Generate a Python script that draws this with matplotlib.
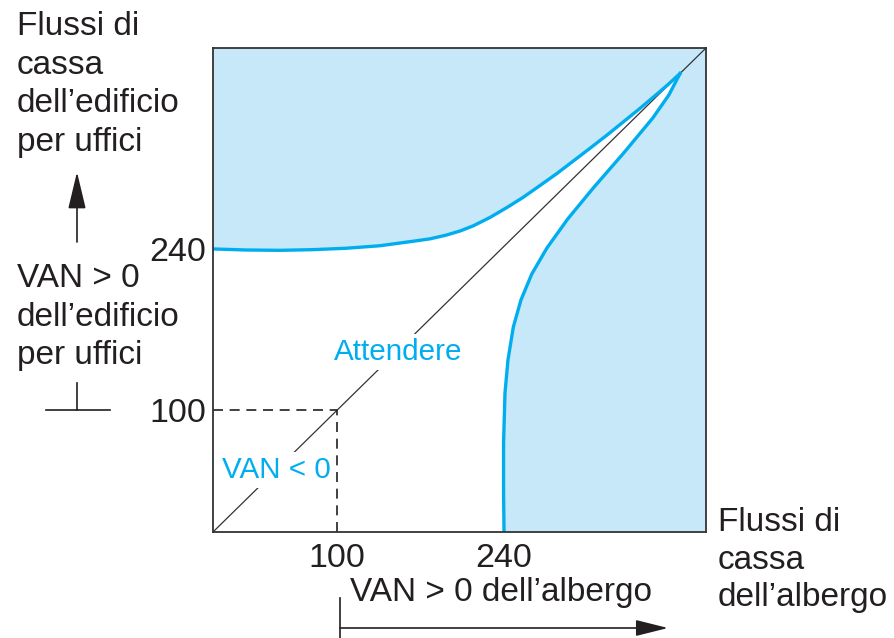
import matplotlib
matplotlib.use("Agg")
import matplotlib.pyplot as plt

plt.rcParams['font.family'] = ['Liberation Sans', 'DejaVu Sans']

# curves (data units)
upper_x = [-4.0, 23.7, 52.3, 80.0, 107.7, 136.2, 164.0, 178.2, 191.7, 203.4, 214.3, 228.6,
           242.9, 256.3, 270.6, 284.9, 298.3, 312.6, 326.9, 340.3, 354.6, 368.9, 378.1, 388.2]
upper_y = [240.2, 239.3, 239.0, 239.6, 240.8, 243.0, 246.9, 249.0, 252.2, 255.8, 260.2, 267.6,
           276.3, 285.0, 295.4, 305.9, 316.5, 327.8, 339.3, 350.5, 362.5, 375.0, 383.2, 392.8]

right_x = [240.4, 240.0, 240.0, 241.2, 243.7, 248.2, 254.6, 263.7, 276.4, 293.9,
           315.3, 340.9, 365.3, 378.8, 388.2]
right_y = [-6.0, 27.9, 71.4, 114.9, 143.6, 172.3, 195.8, 218.4, 241.0, 266.3,
           293.2, 323.7, 354.1, 374.1, 392.8]

xlim = (-4, 410)
ylim = (-6, 415)
tick_vals = [100, 240]
tick_labels = ['100', '240']

BLUE = '#00aeef'
FILL = '#c7e8f8'
INK = '#231f20'

W, H = 894, 638
fig = plt.figure(figsize=(W / 100, H / 100), dpi=100)
ax = fig.add_axes([213 / W, 106 / H, 493 / W, 484 / H])
ax.set_xlim(*xlim)
ax.set_ylim(*ylim)
ax.set_facecolor(FILL)

# white wedge between the two curves
wx = [xlim[0]] + upper_x + right_x[::-1]
wy = [ylim[0]] + upper_y + right_y[::-1]
ax.fill(wx, wy, color='white', lw=0, zorder=1)

ax.plot(upper_x, upper_y, color=BLUE, lw=2.4, zorder=3, solid_joinstyle='round')
ax.plot(right_x, right_y, color=BLUE, lw=2.4, zorder=3, solid_joinstyle='round')

# diagonal
ax.plot([xlim[0], xlim[1]], [ylim[0], ylim[1]], color='#333333', lw=0.9, zorder=2)

# dashed guides at 100
ax.plot([xlim[0], 100], [100, 100], color=INK, lw=1.2, ls=(0, (6, 4)), zorder=2)
ax.plot([100, 100], [ylim[0], 100], color=INK, lw=1.2, ls=(0, (6, 4)), zorder=2)

for s in ax.spines.values():
    s.set_color('#333333')
    s.set_linewidth(1.3)
    s.set_zorder(5)

ax.set_xticks(tick_vals)
ax.set_xticklabels(tick_labels)
ax.set_yticks(tick_vals)
ax.set_yticklabels(tick_labels)
ax.tick_params(length=0, labelsize=24.5, colors=INK, pad=5)
ax.tick_params(axis='x', pad=8)

ax.text(151.4, 143.6, 'Attendere', color=BLUE, fontsize=21.3, ha='center', va='baseline',
        zorder=4, bbox=dict(boxstyle='square,pad=0.15', fc='white', ec='none'))
ax.text(48.9, 41.0, 'VAN < 0', color=BLUE, fontsize=21.3, ha='center', va='baseline',
        zorder=4, bbox=dict(boxstyle='square,pad=0.15', fc='white', ec='none'))


def fx(px):
    return px / W


def fy(py):
    return 1 - py / H


fig.text(fx(17), fy(11), 'Flussi di\ncassa\ndell\u2019edificio\nper uffici',
         fontsize=24, color=INK, ha='left', va='top', linespacing=1.32)
fig.text(fx(17), fy(263), 'VAN > 0\ndell\u2019edificio\nper uffici',
         fontsize=24, color=INK, ha='left', va='top', linespacing=1.32)
fig.text(fx(718), fy(507), 'Flussi di\ncassa\ndell\u2019albergo',
         fontsize=24, color=INK, ha='left', va='top', linespacing=1.28)
fig.text(fx(350), fy(592), 'VAN > 0 dell\u2019albergo',
         fontsize=24, color=INK, ha='left', va='center')

# arrows and bracket marks
fig.add_artist(plt.Line2D([fx(77), fx(77)], [fy(383), fy(410)], color=INK, lw=1.2))
fig.add_artist(plt.Line2D([fx(46), fx(110)], [fy(410), fy(410)], color=INK, lw=1.2))
ax.annotate('', xy=(fx(77), fy(172)), xytext=(fx(77), fy(242)),
            xycoords='figure fraction', textcoords='figure fraction',
            arrowprops=dict(arrowstyle='-|>,head_length=2.3,head_width=0.55', color=INK,
                            lw=1.2, shrinkA=0, shrinkB=0))
fig.add_artist(plt.Line2D([fx(340), fx(340)], [fy(598), fy(638)], color=INK, lw=1.2))
ax.annotate('', xy=(fx(668), fy(628)), xytext=(fx(340), fy(628)),
            xycoords='figure fraction', textcoords='figure fraction',
            arrowprops=dict(arrowstyle='-|>,head_length=2.0,head_width=0.5', color=INK,
                            lw=1.2, shrinkA=0, shrinkB=0))

fig.savefig('out.png', dpi=100)
